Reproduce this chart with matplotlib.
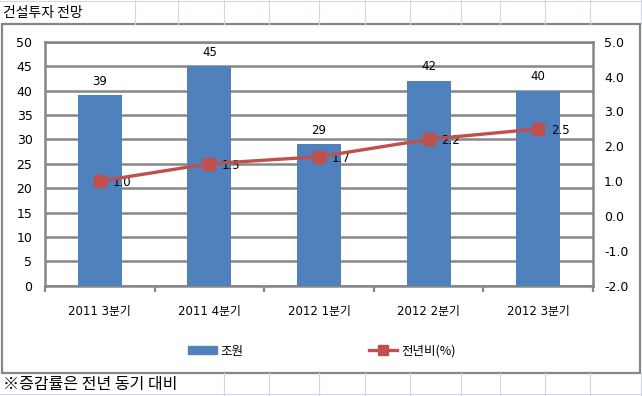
import matplotlib
matplotlib.use("Agg")
import matplotlib.pyplot as plt
from matplotlib.lines import Line2D
from matplotlib.patches import Rectangle, Patch

plt.rcParams["font.family"] = ["DejaVu Sans", "Noto Sans CJK KR"]
plt.rcParams["axes.unicode_minus"] = False

# Data
quarters = ["2011 3분기", "2011 4분기", "2012 1분기", "2012 2분기", "2012 3분기"]
invest = [39, 45, 29, 42, 40]          # 조원
growth = [1.0, 1.5, 1.7, 2.2, 2.5]     # 전년비(%)

title = "건설투자 전망"
note = "※증감률은 전년 동기 대비"

BLUE = "#4F81BD"
RED = "#C0504D"
GRAY = "#868686"
CELL = "#D0D7E5"

W, H = 642, 396


def fx(px):
    return px / W


def fy(py):
    return 1 - py / H


fig = plt.figure(figsize=(W / 100, H / 100), dpi=100)
fig.patch.set_facecolor("white")

# spreadsheet cell lines behind the chart
col_edges = [135, 178, 224, 269, 319, 365, 410, 461, 500, 545, 590, 641]
for x in col_edges:
    fig.add_artist(Line2D([fx(x), fx(x)], [fy(0), fy(24)], color=CELL, lw=0.8))
    if x >= 224:
        fig.add_artist(Line2D([fx(x), fx(x)], [fy(373), fy(396)], color=CELL, lw=0.8))
for y in [1, 394]:
    fig.add_artist(Line2D([0, 1], [fy(y), fy(y)], color=CELL, lw=0.8))

# chart frame
fig.add_artist(Rectangle((fx(2), fy(373)), fx(638), (373 - 24) / H,
                         facecolor="white", edgecolor=GRAY, lw=1.6, zorder=1))

fig.text(fx(3), fy(13), title, fontsize=10, va="center", ha="left",
         family=["Noto Sans CJK KR", "DejaVu Sans"])
fig.text(fx(3), fy(384), note, fontsize=11.5, va="center", ha="left",
         family=["Noto Sans CJK KR", "DejaVu Sans"])

ax = fig.add_axes([fx(45), fy(285.7), fx(593 - 45), (285.7 - 41.7) / H], zorder=2)
ax.set_facecolor("white")
x = list(range(len(quarters)))
bars = ax.bar(x, invest, width=0.4, color=BLUE, zorder=3)
ax.set_xlim(-0.5, len(quarters) - 0.5)
ax.set_ylim(0, 50)
ax.set_yticks(range(0, 51, 5))
ax.grid(axis="y", color=GRAY, lw=1.8, zorder=0)
ax.set_axisbelow(True)
for s in ax.spines.values():
    s.set_color(GRAY)
    s.set_linewidth(1.8)
ax.set_xticks(x)
ax.set_xticklabels(quarters, fontsize=8.5)
ax.set_xticks([i - 0.5 for i in range(len(quarters) + 1)], minor=True)
ax.tick_params(axis="x", which="major", length=0, pad=14)
ax.tick_params(axis="x", which="minor", length=4, width=1.6, color=GRAY, direction="out")
ax.tick_params(axis="y", length=0, pad=9, labelsize=9)

for xi, v in zip(x, invest):
    ax.annotate(f"{v}", (xi, v), xytext=(0, 10), textcoords="offset points",
                ha="center", va="center", fontsize=8.5)

ax2 = ax.twinx()
ax2.set_ylim(-2, 5)
ax2.set_yticks(range(-2, 6))
ax2.set_yticklabels([f"{t:.1f}" for t in range(-2, 6)])
ax2.tick_params(axis="y", length=0, pad=8, labelsize=9)
for s in ax2.spines.values():
    s.set_visible(False)
ax2.plot(x, growth, color=RED, lw=2.4, marker="s", markersize=8, zorder=4)
for xi, v in zip(x, growth):
    ax2.annotate(f"{v:.1f}", (xi, v), xytext=(9, -1), textcoords="offset points",
                 ha="left", va="center", fontsize=8.5)

handles = [Patch(facecolor=BLUE, edgecolor=BLUE),
           Line2D([], [], color=RED, lw=2.4, marker="s", markersize=7)]
fig.legend(handles, ["조원", "전년비(%)"], loc="center", bbox_to_anchor=(fx(322), fy(351)),
           ncol=2, frameon=False, handlelength=2.3, handleheight=0.6,
           handletextpad=0.3, columnspacing=10,
           prop={"family": ["Noto Sans CJK KR", "DejaVu Sans"], "size": 9})

fig.savefig("out.png", dpi=100, facecolor="white")
